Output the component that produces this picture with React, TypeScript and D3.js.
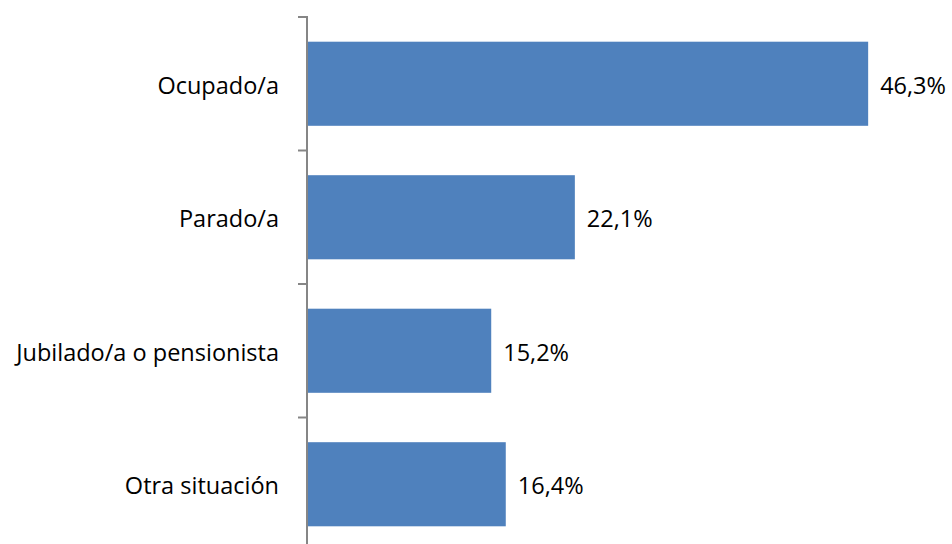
import React from "react";
import * as d3 from "d3";

const categories = ["Ocupado/a", "Parado/a", "Jubilado/a o pensionista", "Otra situación"];
const values = [46.3, 22.1, 15.2, 16.4];
const valueLabels = ["46,3%", "22,1%", "15,2%", "16,4%"];

export default function App() {
  const W = 952, H = 544;
  const x0 = 307;
  const x = d3.scaleLinear().domain([0, 50]).range([x0, x0 + 606]);
  const y = d3.scaleBand().domain(categories).range([17, 551]).paddingInner(0.37).paddingOuter(0.185);
  const tickYs = d3.range(categories.length + 1).map((i) => 17 + i * y.step());
  const font = "'Open Sans', 'Noto Sans', sans-serif";
  const fs = 23.5;
  return (
    <svg width={W} height={H} style={{ position: "absolute", left: 0, top: 0, background: "#fff" }}>
      {categories.map((c, i) => (
        <g key={c}>
          <rect x={x(0)} y={y(c)} width={x(values[i]) - x(0)} height={y.bandwidth()} fill="#4F81BD" />
          <text x={x(values[i]) + 12} y={y(c)! + y.bandwidth() / 2 + 1} dominantBaseline="central" fontFamily={font} fontSize={fs} fill="#000">
            {valueLabels[i]}
          </text>
          <text x={279} y={y(c)! + y.bandwidth() / 2 + 1} dominantBaseline="central" textAnchor="end" fontFamily={font} fontSize={fs} fill="#000">
            {c}
          </text>
        </g>
      ))}
      <line x1={x0} x2={x0} y1={16} y2={H} stroke="#868686" strokeWidth={2} />
      {tickYs.map((t, i) => (
        <line key={i} x1={298} x2={x0} y1={t} y2={t} stroke="#868686" strokeWidth={2} />
      ))}
    </svg>
  );
}
